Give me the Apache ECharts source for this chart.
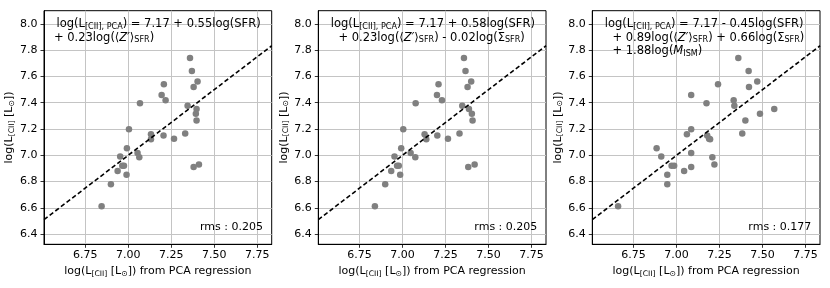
<!DOCTYPE html>
<html><head><meta charset="utf-8">
<script src="https://cdn.jsdelivr.net/npm/echarts@6/dist/echarts.min.js"></script>
<style>html,body{margin:0;padding:0;background:#fff}#c{width:830px;height:288px}</style>
</head><body><div id="c"></div>
<script>
// ---- data ----
const xTicks = [6.75, 7.00, 7.25, 7.50, 7.75];
const yTicks = [6.4, 6.6, 6.8, 7.0, 7.2, 7.4, 7.6, 7.8, 8.0];
const xRange = [6.51, 7.834];
const yRange = [6.322, 8.101];

// observed log(L[CII]) (shared y values)
const observed = [6.612, 6.779, 6.881, 6.921, 6.921, 6.851, 6.990, 7.054, 7.198, 7.396,
                  7.018, 6.985, 7.160, 7.122, 7.459, 7.541, 7.419, 7.150, 7.125, 7.165,
                  7.378, 7.741, 7.642, 7.520, 7.561, 7.353, 7.317, 7.264, 6.911, 6.929];
// PCA-regression predictions, panel 1 / 2 / 3
const pca1 = [6.845, 6.899, 6.938, 6.965, 6.975, 6.990, 6.953, 6.992, 7.004, 7.068,
              7.054, 7.064, 7.132, 7.132, 7.194, 7.207, 7.217, 7.205, 7.266, 7.331,
              7.345, 7.359, 7.370, 7.380, 7.403, 7.397, 7.393, 7.397, 7.380, 7.411];
const pca2 = [6.839, 6.899, 6.934, 6.968, 6.978, 6.986, 6.953, 6.992, 7.004, 7.076,
              7.047, 7.074, 7.128, 7.138, 7.200, 7.209, 7.229, 7.202, 7.264, 7.331,
              7.347, 7.357, 7.366, 7.378, 7.399, 7.386, 7.403, 7.407, 7.382, 7.419];
const pca3 = [6.660, 6.946, 7.044, 6.971, 6.986, 6.946, 6.911, 6.884, 7.085, 7.174,
              7.085, 7.208, 7.060, 7.195, 7.085, 7.241, 7.332, 7.178, 7.189, 7.382,
              7.336, 7.359, 7.419, 7.421, 7.469, 7.568, 7.485, 7.400, 7.085, 7.220];
const rmsValues = ['0.205', '0.205', '0.177'];

const formulas = [
  ['{n|log(L}{s|[CII], PCA}{n|) = 7.17 + 0.55log(SFR)}',
   '{n| + 0.23log(⟨}{i|Z′}{n|⟩}{s|SFR}{n|)}'],
  ['{n|log(L}{s|[CII], PCA}{n|) = 7.17 + 0.58log(SFR)}',
   '{n| + 0.23log(⟨}{i|Z′}{n|⟩}{s|SFR}{n|) - 0.02log(Σ}{s|SFR}{n|)}'],
  ['{n|log(L}{s|[CII], PCA}{n|) = 7.17 - 0.45log(SFR)}',
   '{n| + 0.89log(⟨}{i|Z′}{n|⟩}{s|SFR}{n|) + 0.66log(Σ}{s|SFR}{n|)}',
   '{n| + 1.88log(}{i|M}{s|ISM}{n|)}']
];
const xName = '{n|log(L}{s|[CII]}{n| [L}{s|⊙}{n|]) from PCA regression}';
const yName = '{n|log(L}{s|[CII]}{n| [L}{s|⊙}{n|])}';

// ---- layout ----
const FONT = 'DejaVu Sans';
const FS = 11;
const FF = 11.5;
const lefts = [44, 318.3, 592.3];
const gw = 227.7, gtop = 10.7, gh = 233.6;
const line2Off = [6.3, 16.5, 16.5];

function makeRich(fs) {
  return {
    n: {fontFamily: FONT, fontSize: fs, color: '#000', lineHeight: 13},
    i: {fontFamily: FONT, fontSize: fs, fontStyle: 'italic', color: '#000', lineHeight: 13},
    s: {fontFamily: FONT, fontSize: fs * 0.7, color: '#000', lineHeight: 6, verticalAlign: 'bottom'}
  };
}
const rich = makeRich(FS);
const richF = makeRich(FF);

const grids = [], xAxes = [], yAxes = [], series = [], graphics = [];
const panels = [pca1, pca2, pca3];
panels.forEach((px, k) => {
  grids.push({left: lefts[k], top: gtop, width: gw, height: gh, show: true,
              borderColor: '#000', borderWidth: 1, backgroundColor: 'transparent', containLabel: false});
  xAxes.push({
    type: 'value', gridIndex: k, min: xRange[0], max: xRange[1],
    axisLine: {show: true, onZero: false, lineStyle: {color: '#000', width: 1}},
    axisTick: {show: true, length: 3.5, lineStyle: {color: '#000', width: 0.8}, customValues: xTicks},
    axisLabel: {customValues: xTicks, margin: 5.5, color: '#000', fontFamily: FONT, fontSize: FS,
                formatter: v => v.toFixed(2)},
    splitLine: {show: true, lineStyle: {color: '#c4c4c4', width: 1}},
    name: xName, nameLocation: 'middle', nameGap: 18,
    nameTextStyle: {rich: rich}
  });
  yAxes.push({
    type: 'value', gridIndex: k, min: yRange[0], max: yRange[1],
    axisLine: {show: true, onZero: false, lineStyle: {color: '#000', width: 1}},
    axisTick: {show: true, length: 3.5, lineStyle: {color: '#000', width: 0.8}, customValues: yTicks},
    axisLabel: {customValues: yTicks, margin: 6.5, color: '#000', fontFamily: FONT, fontSize: FS,
                formatter: v => v.toFixed(1)},
    splitLine: {show: true, lineStyle: {color: '#c4c4c4', width: 1}},
    name: yName, nameLocation: 'middle', nameGap: 22, nameRotate: 90,
    nameTextStyle: {rich: rich}
  });
  series.push({
    type: 'scatter', xAxisIndex: k, yAxisIndex: k, symbolSize: 6.5,
    itemStyle: {color: '#808080', opacity: 1},
    data: px.map((v, i) => [v, observed[i]]), z: 2, silent: true
  });
  // one-to-one line across the axis extent
  series.push({
    type: 'line', xAxisIndex: k, yAxisIndex: k, symbol: 'none', silent: true, z: 3,
    lineStyle: {color: '#000', width: 1.6, type: [4.5, 2.6]},
    data: [[xRange[0], xRange[0]], [xRange[1], xRange[1]]]
  });
  formulas[k].forEach((ln, j) => {
    graphics.push({type: 'text', x: lefts[k] + (j === 0 ? 12.5 : line2Off[k]), y: 24.3 + j * 13.4,
      style: {text: ln, rich: richF, verticalAlign: 'middle', align: 'left'}, z: 10});
  });
  graphics.push({type: 'text', x: lefts[k] + 219, y: 227,
    style: {text: 'rms : ' + rmsValues[k], fontFamily: FONT, fontSize: FS, fill: '#000',
            align: 'right', verticalAlign: 'middle'}, z: 10});
});

const chart = echarts.init(document.getElementById('c'), null, {renderer: 'canvas'});
chart.setOption({
  animation: false,
  backgroundColor: '#fff',
  grid: grids, xAxis: xAxes, yAxis: yAxes, series: series, graphic: graphics
});
</script></body></html>
